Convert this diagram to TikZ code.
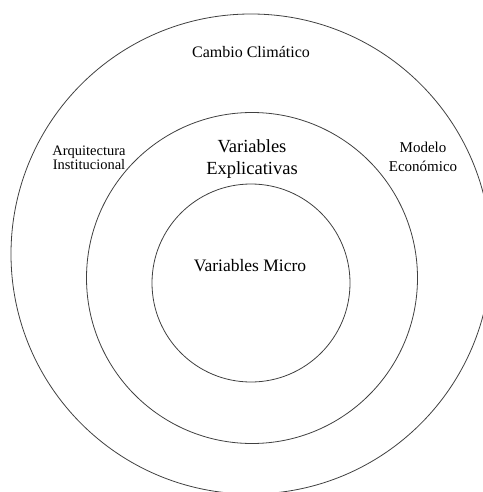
\documentclass[tikz,border=0pt]{standalone}
\usepackage{fontspec}
\setmainfont{Liberation Serif}
\begin{document}
\begin{tikzpicture}[x=1pt, y=-1pt,
        ring/.style={draw=black!75, line width=0.8pt, circle, inner sep=0pt},
        label/.style={align=center, inner sep=0pt}]
    \useasboundingbox (0,0) rectangle (482,492);
    % the three rings
    \node[ring, minimum size=480pt] (outer) at (251,254) {};
    \node[ring, minimum size=331pt] (middle) at (252,278) {};
    \node[ring, minimum size=198pt] (inner) at (251,283) {};
    % texts
    \node[label, font=\fontsize{16}{18}\selectfont] (cambio) at (251,52) {Cambio Climático};
    \node[label, font=\fontsize{14.5}{13}\selectfont] (arq) at (89,158) {Arquitectura\\Institucional};
    \node[label, font=\fontsize{15}{19}\selectfont] (modelo) at (423,157) {Modelo\\Económico};
    \node[label, font=\fontsize{18.5}{22}\selectfont] (explic) at (252,159) {Variables\\Explicativas};
    \node[label, font=\fontsize{17.5}{20}\selectfont] (micro) at (250,266) {Variables Micro};
\end{tikzpicture}
\end{document}
